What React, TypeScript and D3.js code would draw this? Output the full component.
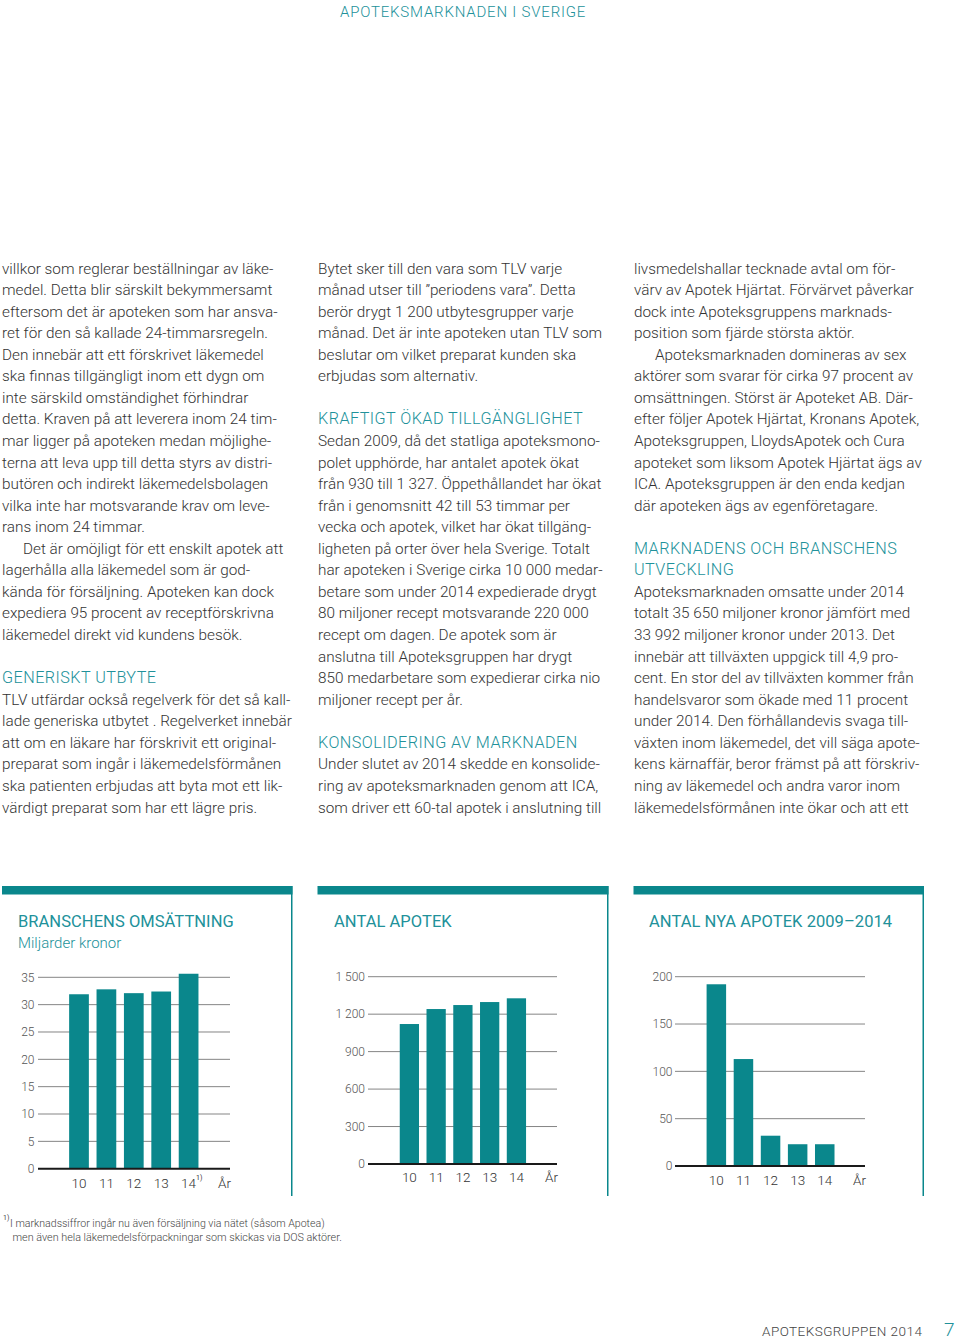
import React from "react";
import * as d3 from "d3";

// ---------- DATA ----------
const years = ["10", "11", "12", "13", "14"];
const revenue = [31.9, 32.8, 32.1, 32.4, 35.65];
const revenueTicks = [0, 5, 10, 15, 20, 25, 30, 35];
const pharmacies = [1121, 1241, 1273, 1297, 1327];
const pharmacyTicks = [0, 300, 600, 900, 1200, 1500];
const newPharmacies = [192, 113, 32, 23, 23];
const newPharmacyTicks = [0, 50, 100, 150, 200];

const col1 = [
  "villkor som reglerar beställningar av läke-",
  "medel. Detta blir särskilt bekymmersamt",
  "eftersom det är apoteken som har ansva-",
  "ret för den så kallade 24-timmarsregeln.",
  "Den innebär att ett förskrivet läkemedel",
  "ska finnas tillgängligt inom ett dygn om",
  "inte särskild omständighet förhindrar",
  "detta. Kraven på att leverera inom 24 tim-",
  "mar ligger på apoteken medan möjlighe-",
  "terna att leva upp till detta styrs av distri-",
  "butören och indirekt läkemedelsbolagen",
  "vilka inte har motsvarande krav om leve-",
  "rans inom 24 timmar.",
  ">Det är omöjligt för ett enskilt apotek att",
  "lagerhålla alla läkemedel som är god-",
  "kända för försäljning. Apoteken kan dock",
  "expediera 95 procent av receptförskrivna",
  "läkemedel direkt vid kundens besök.",
  "",
  "#GENERISKT UTBYTE",
  "TLV utfärdar också regelverk för det så kall-",
  "lade generiska utbytet . Regelverket innebär",
  "att om en läkare har förskrivit ett original-",
  "preparat som ingår i läkemedelsförmånen",
  "ska patienten erbjudas att byta mot ett lik-",
  "värdigt preparat som har ett lägre pris.",
];
const col2 = [
  "Bytet sker till den vara som TLV varje",
  "månad utser till ”periodens vara”. Detta",
  "berör drygt 1 200 utbytesgrupper varje",
  "månad. Det är inte apoteken utan TLV som",
  "beslutar om vilket preparat kunden ska",
  "erbjudas som alternativ.",
  "",
  "#KRAFTIGT ÖKAD TILLGÄNGLIGHET",
  "Sedan 2009, då det statliga apoteksmono-",
  "polet upphörde, har antalet apotek ökat",
  "från 930 till 1 327. Öppethållandet har ökat",
  "från i genomsnitt 42 till 53 timmar per",
  "vecka och apotek, vilket har ökat tillgäng-",
  "ligheten på orter över hela Sverige. Totalt",
  "har apoteken i Sverige cirka 10 000 medar-",
  "betare som under 2014 expedierade drygt",
  "80 miljoner recept motsvarande 220 000",
  "recept om dagen. De apotek som är",
  "anslutna till Apoteksgruppen har drygt",
  "850 medarbetare som expedierar cirka nio",
  "miljoner recept per år.",
  "",
  "#KONSOLIDERING AV MARKNADEN",
  "Under slutet av 2014 skedde en konsolide-",
  "ring av apoteksmarknaden genom att ICA,",
  "som driver ett 60-tal apotek i anslutning till",
];
const col3 = [
  "livsmedelshallar tecknade avtal om för-",
  "värv av Apotek Hjärtat. Förvärvet påverkar",
  "dock inte Apoteksgruppens marknads-",
  "position som fjärde största aktör.",
  ">Apoteksmarknaden domineras av sex",
  "aktörer som svarar för cirka 97 procent av",
  "omsättningen. Störst är Apoteket AB. Där-",
  "efter följer Apotek Hjärtat, Kronans Apotek,",
  "Apoteksgruppen, LloydsApotek och Cura",
  "apoteket som liksom Apotek Hjärtat ägs av",
  "ICA. Apoteksgruppen är den enda kedjan",
  "där apoteken ägs av egenföretagare.",
  "",
  "#MARKNADENS OCH BRANSCHENS",
  "#UTVECKLING",
  "Apoteksmarknaden omsatte under 2014",
  "totalt 35 650 miljoner kronor jämfört med",
  "33 992 miljoner kronor under 2013. Det",
  "innebär att tillväxten uppgick till 4,9 pro-",
  "cent. En stor del av tillväxten kommer från",
  "handelsvaror som ökade med 11 procent",
  "under 2014. Den förhållandevis svaga till-",
  "växten inom läkemedel, det vill säga apote-",
  "kens kärnaffär, beror främst på att förskriv-",
  "ning av läkemedel och andra varor inom",
  "läkemedelsförmånen inte ökar och att ett",
];

// ---------- STYLE ----------
const TEAL = "#0a878c";
const TEAL_TEXT = "#21919a";
const BODY = "#333";
const FONT = "Roboto, 'Noto Sans', sans-serif";

const fmt = d3.formatLocale({ decimal: ",", thousands: "\u00a0", grouping: [3], currency: ["", ""] }).format(",");

type ChartCfg = {
  title: string;
  subtitle?: string;
  values: number[];
  ticks: number[];
  max: number;
  panel: [number, number];
  grid: [number, number];
  yRange: [number, number];
  band: [number, number];
  labelRight: number;
  xLabelY: number;
  titleX: number;
  superscript?: boolean;
};

const charts: ChartCfg[] = [
  {
    title: "BRANSCHENS OMSÄTTNING",
    subtitle: "Miljarder kronor",
    values: revenue,
    ticks: revenueTicks,
    max: 35,
    panel: [2, 292.5],
    grid: [38, 230],
    yRange: [1168.7, 977.3],
    band: [65.3, 202.3],
    labelRight: 34.5,
    xLabelY: 1188,
    titleX: 18,
    superscript: true,
  },
  {
    title: "ANTAL APOTEK",
    values: pharmacies,
    ticks: pharmacyTicks,
    max: 1500,
    panel: [317.5, 608.5],
    grid: [368, 557],
    yRange: [1164, 976.7],
    band: [396, 529.8],
    labelRight: 365,
    xLabelY: 1181.7,
    titleX: 334,
  },
  {
    title: "ANTAL NYA APOTEK 2009–2014",
    values: newPharmacies,
    ticks: newPharmacyTicks,
    max: 200,
    panel: [633.5, 924],
    grid: [675, 865],
    yRange: [1166, 976.7],
    band: [702.8, 838.3],
    labelRight: 672.5,
    xLabelY: 1185,
    titleX: 649,
  },
];

function Chart({ c }: { c: ChartCfg }) {
  const y = d3.scaleLinear().domain([0, c.max]).range(c.yRange);
  const x = d3.scaleBand<string>().domain(years).range(c.band).paddingInner(0.28).paddingOuter(0.14);
  return (
    <g>
      <rect x={c.panel[0]} y={886} width={c.panel[1] - c.panel[0]} height={8.5} fill={TEAL} />
      <line x1={c.panel[1] - 0.75} x2={c.panel[1] - 0.75} y1={886} y2={1196} stroke={TEAL} strokeWidth={1.5} />
      <text x={c.titleX} y={926.6} fill={TEAL_TEXT} fontSize={16.5} fontWeight={400} letterSpacing={0.05} fontFamily={FONT}>
        {c.title}
      </text>
      {c.subtitle && (
        <text x={c.titleX} y={948} fill={TEAL_TEXT} fontSize={15} fontWeight={300} fontFamily={FONT}>
          {c.subtitle}
        </text>
      )}
      {c.ticks.map((t) => (
        <g key={t}>
          {t !== 0 && (
            <line x1={c.grid[0]} x2={c.grid[1]} y1={y(t)} y2={y(t)} stroke="#858585" strokeWidth={1} />
          )}
          <text
            x={c.labelRight}
            y={y(t)}
            dy="0.36em"
            textAnchor="end"
            fontSize={12}
            fontWeight={300}
            fill="#555"
            fontFamily={FONT}
          >
            {fmt(t)}
          </text>
        </g>
      ))}
      {c.values.map((v, i) => (
        <rect key={i} x={x(years[i])} y={y(v)} width={x.bandwidth()} height={y(0) - y(v)} fill={TEAL} />
      ))}
      <line x1={c.grid[0]} x2={c.grid[1]} y1={y(0)} y2={y(0)} stroke="#1a1a1a" strokeWidth={2} />
      {years.map((yr) => (
        <text
          key={yr}
          x={(x(yr) as number) + x.bandwidth() / 2}
          y={c.xLabelY}
          textAnchor="middle"
          fontSize={13.5}
          fontWeight={300}
          fill="#333"
          fontFamily={FONT}
        >
          {yr}
        </text>
      ))}
      {c.superscript && (
        <text
          x={(x(years[4]) as number) + x.bandwidth() / 2 + 7.5}
          y={c.xLabelY - 8}
          fontSize={7}
          fill="#333"
          fontFamily={FONT}
        >
          1)
        </text>
      )}
      <text x={c.grid[1] + 1} y={c.xLabelY} textAnchor="end" fontSize={13.5} fontWeight={300} fill="#333" fontFamily={FONT}>
        År
      </text>
    </g>
  );
}

function Column({ lines, x }: { lines: string[]; x: number }) {
  const y0 = 273.5;
  const lh = 21.56;
  return (
    <g>
      {lines.map((l, i) => {
        if (!l) return null;
        const head = l.startsWith("#");
        const indent = l.startsWith(">");
        const t = head || indent ? l.slice(1) : l;
        return (
          <text
            key={i}
            x={x + (indent ? 21 : 0)}
            y={y0 + i * lh}
            fontSize={head ? 16.2 : 15.3}
            fontWeight={300}
            fill={head ? TEAL_TEXT : BODY}
            letterSpacing={head ? 0.45 : 0}
            fontFamily={FONT}
          >
            {t}
          </text>
        );
      })}
    </g>
  );
}

export default function App() {
  return (
    <svg width={960} height={1340} style={{ position: "absolute", left: 0, top: 0, background: "#fff" }}>
      <rect width={960} height={1340} fill="#fff" />
      <text x={340} y={17.3} fontSize={15} fill={TEAL_TEXT} fontWeight={300} letterSpacing={0.8} fontFamily={FONT}>
        APOTEKSMARKNADEN I SVERIGE
      </text>
      <Column lines={col1} x={2} />
      <Column lines={col2} x={318} />
      <Column lines={col3} x={634} />
      {charts.map((c, i) => (
        <Chart key={i} c={c} />
      ))}
      <text x={3} y={1220} fontSize={7} fill="#444" fontFamily={FONT}>
        1)
      </text>
      <text x={10} y={1226.5} fontSize={10.6} fontWeight={300} fill="#444" fontFamily={FONT}>
        I marknadssiffror ingår nu även försäljning via nätet (såsom Apotea)
      </text>
      <text x={12.5} y={1241} fontSize={10.8} fontWeight={300} fill="#444" fontFamily={FONT}>
        men även hela läkemedelsförpackningar som skickas via DOS aktörer.
      </text>
      <text x={762} y={1336} fontSize={13.5} fontWeight={300} fill="#444" letterSpacing={0.45} fontFamily={FONT}>
        APOTEKSGRUPPEN 2014
      </text>
      <text x={944} y={1336} fontSize={19} fontWeight={300} fill={TEAL_TEXT} fontFamily={FONT}>
        7
      </text>
    </svg>
  );
}
